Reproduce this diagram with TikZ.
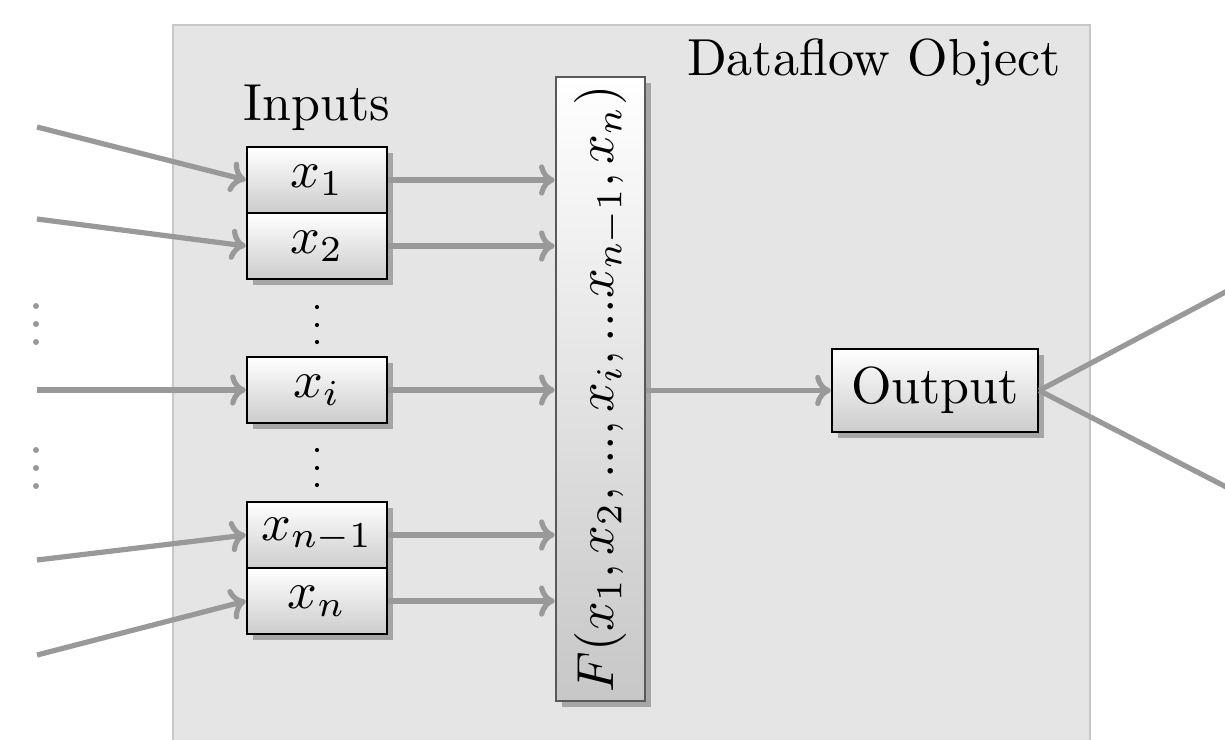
\documentclass[tikz,border=0pt]{standalone}
\usetikzlibrary{arrows.meta,shadows}
\begin{document}
\begin{tikzpicture}[x=0.192pt,y=-0.192pt,
  conn/.style={draw=black!40, line width=1pt, -{To[length=3pt,width=6pt]}},
  wire/.style={draw=black!40, line width=1pt},
  shad/.style={drop shadow={shadow xshift=1.15pt, shadow yshift=-1.15pt, fill=black!35, opacity=1}},
  inbox/.style={shad, draw=black, line width=0.45pt, top color=white, bottom color=black!20,
    minimum width=140*0.192pt, minimum height=66*0.192pt, inner sep=0pt, font=\normalsize},
  fbox/.style={shad, draw=black!65, line width=0.5pt, top color=white, bottom color=black!22,
    minimum width=89*0.192pt, minimum height=624*0.192pt, inner sep=0pt},
  outbox/.style={shad, draw=black, line width=0.45pt, top color=white, bottom color=black!20,
    minimum width=206*0.192pt, minimum height=83*0.192pt, inner sep=0pt},
  lbl/.style={anchor=base, inner sep=0pt},
  bdot/.style={fill=black},
  gdot/.style={fill=black!40}]
\clip (0,0) rectangle (1225,739);
\useasboundingbox (0,0) rectangle (1225,739);
% background object
\draw[fill=black!10, draw=black!22, line width=0.3pt] (173,25) rectangle (1090,800);
\node[lbl] (title) at (874,75) {Dataflow Object};
\node[lbl] (inlbl) at (317,120) {Inputs};
% input boxes
\node[inbox] (x1) at (317,180) {$x_1$};
\node[inbox] (x2) at (317,246) {$x_2$};
\node[inbox] (xi) at (317,390) {$x_i$};
\node[inbox] (xn1) at (317,535) {$x_{n-1}$};
\node[inbox] (xn) at (317,601) {$x_n$};
% vertical dots
\foreach \yy in {307,325,342,450,468,485} \fill[bdot] (317,\yy) circle (2.1);
\foreach \yy in {306,324,342,450,468,486} \fill[gdot] (36,\yy) circle (3);
% function box
\node[fbox] (F) at (600.5,389) {\rotatebox{90}{$F(x_1, x_2, ..., x_i, ...x_{n-1}, x_n)$}};
% output
\node[outbox] (out) at (935,390.5) {Output};
% incoming free ends
\coordinate (i1) at (37,127);
\coordinate (i2) at (37,219);
\coordinate (i3) at (37,390);
\coordinate (i4) at (37,560);
\coordinate (i5) at (37,655);
\coordinate (o1) at (1265,271);
\coordinate (o2) at (1265,507);
\draw[conn] (i1) -- (x1.west);
\draw[conn] (i2) -- (x2.west);
\draw[conn] (i3) -- (xi.west);
\draw[conn] (i4) -- (xn1.west);
\draw[conn] (i5) -- (xn.west);
\foreach \b in {x1,x2,xi,xn1,xn} \draw[conn] (\b.east) -- (\b.east -| F.west);
\draw[conn] (F.east |- out.west) -- (out.west);
\draw[wire] (out.east) -- (o1);
\draw[wire] (out.east) -- (o2);
\end{tikzpicture}
\end{document}
